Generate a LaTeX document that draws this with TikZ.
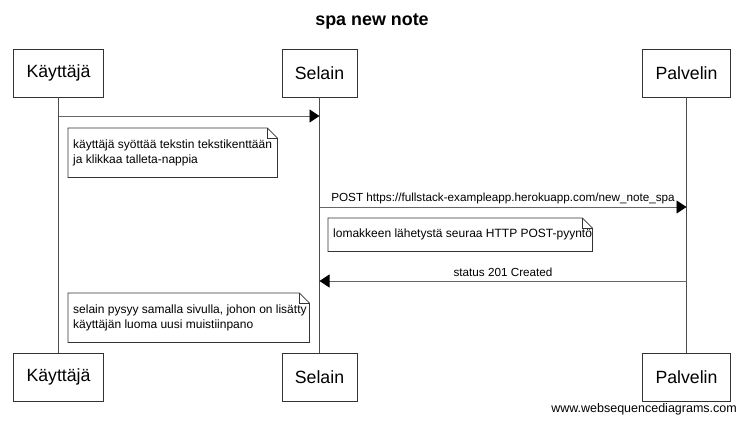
\documentclass[tikz,border=0pt]{standalone}
\usepackage{fontspec}
\setmainfont{Liberation Sans}
\usetikzlibrary{arrows.meta,calc}

\tikzset{%
		every participant/.style={
			rectangle,
			draw=black!80,
			line width=0.8pt,
			minimum height=48pt,
			inner xsep=13pt,
			font=\fontsize{17.7}{20}\selectfont
		},
		lifeline/.style={
			draw=black!70,
			line width=0.8pt
		},
		message/.style={
			draw=black!60,
			line width=0.8pt,
			-{Triangle[length=10pt,width=13pt,fill=black,color=black]}
		},
		message label/.style={
			font=\fontsize{11.7}{14}\selectfont,
			inner sep=0pt
		},
		note box/.style={
			anchor=north west,
			inner sep=0pt
		},
		note text/.style={
			anchor=west,
			align=left,
			inner sep=0pt,
			font=\fontsize{12}{15}\selectfont
		},
		note outline/.style={
			draw=black!80,
			line width=0.8pt
		},
	}

\begin{document}
\begin{tikzpicture}[x=1pt, y=-1pt]
			\useasboundingbox (0,0) rectangle (743,424);
			
			% title
			\node [font=\bfseries\fontsize{17.9}{20}\selectfont] (title) at (372,22) {spa new note};
			
			% draw participants at top and bottom
			\foreach \m/\l/\x in {kayttaja/Käyttäjä/58.5, selain/Selain/319.5, palvelin/Palvelin/686.5}
			{
			\node [every participant/.try] (top-\m) at (\x,73) {\l};
			\node [every participant/.try] (bottom-\m) at (\x,377) {\l};
			\draw [lifeline] (top-\m) -- (bottom-\m);
			}
			
			% message anchors on the lifelines
			\coordinate (msg1-from) at (top-kayttaja |- 0,116);
			\coordinate (msg1-to) at (top-selain |- 0,116);
			\coordinate (msg2-from) at (top-selain |- 0,207);
			\coordinate (msg2-to) at (top-palvelin |- 0,207);
			\coordinate (msg3-from) at (top-palvelin |- 0,281);
			\coordinate (msg3-to) at (top-selain |- 0,281);
			
			% draw messages
			\draw [message] (msg1-from) -- (msg1-to);
			\draw [message] (msg2-from) -- (msg2-to)
			node [message label, above=3pt, midway] {POST https://fullstack-exampleapp.herokuapp.com/new\_note\_spa};
			\draw [message] (msg3-from) -- (msg3-to)
			node [message label, above=4pt, midway] {status 201 Created};
			
			% draw notes
			\node [note box, minimum width=209pt, minimum height=49pt] (note1) at (68,128) {};
			\node [note box, minimum width=264pt, minimum height=33pt] (note2) at (328,218) {};
			\node [note box, minimum width=241pt, minimum height=49pt] (note3) at (68,293) {};
			
			% note texts
			\node [note text] (note1-text) at ([xshift=5pt]note1.west)
			{käyttäjä syöttää tekstin tekstikenttään\\ja klikkaa talleta-nappia};
			\node [note text] (note2-text) at ([xshift=5pt]note2.west)
			{lomakkeen lähetystä seuraa HTTP POST-pyyntö};
			\node [note text] (note3-text) at ([xshift=5pt]note3.west)
			{selain pysyy samalla sivulla, johon on lisätty\\käyttäjän luoma uusi muistiinpano};
			
			% note outlines with folded corner
			\foreach \n in {note1,note2,note3}
			{
			\draw [note outline] (\n.north west) -- ([xshift=-10pt]\n.north east)
			-- ([yshift=-10pt]\n.north east) -- (\n.south east) -- (\n.south west) -- cycle;
			\draw [note outline] ([xshift=-10pt]\n.north east) |- ([yshift=-10pt]\n.north east);
			}
			
			% watermark
			\node [anchor=east, inner sep=0pt, font=\fontsize{12.5}{14}\selectfont] (watermark) at (737,409) {www.websequencediagrams.com};
			\end{tikzpicture}
\end{document}
